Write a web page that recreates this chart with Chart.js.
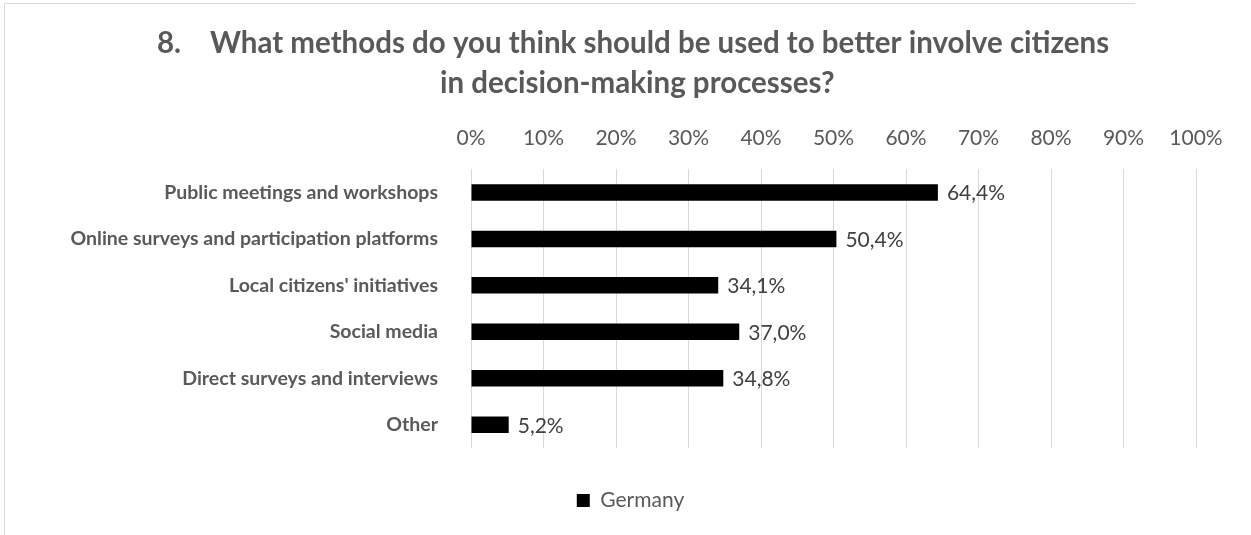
<!DOCTYPE html>
<html>
<head>
<meta charset="utf-8">
<script src="https://cdn.jsdelivr.net/npm/chart.js@4.4.1/dist/chart.umd.min.js"></script>
<style>
  html, body { margin: 0; padding: 0; background: #ffffff; }
  #wrap { width: 1251px; height: 535px; position: relative; }
</style>
</head>
<body>
<div id="wrap"><canvas id="methodsChart"></canvas></div>
<script>
// survey answers, share of respondents (%)
const categories = [
    'Public meetings and workshops',
    'Online surveys and participation platforms',
    "Local citizens' initiatives",
    'Social media',
    'Direct surveys and interviews',
    'Other'
];
const germany = [64.4, 50.4, 34.1, 37.0, 34.8, 5.2];
const seriesName = 'Germany';

const titleNumber = '8.';
const titleLines = [
    'What methods do you think should be used to better involve citizens',
    'in decision-making processes?'
];
const tickLabels = ['0%', '10%', '20%', '30%', '40%', '50%', '60%', '70%', '80%', '90%', '100%'];

const FONT = 'Lato';
const GREY = '#595959';

// value with decimal comma, e.g. 64,4%
function fmt(v) {
    return v.toFixed(1).replace('.', ',') + '%';
}

// frame lines and the two-line heading
const frameAndTitle = {
    id: 'frameAndTitle',
    beforeDraw(chart) {
        const ctx = chart.ctx;
        ctx.save();
        ctx.strokeStyle = '#d9d9d9';
        ctx.lineWidth = 1;
        ctx.beginPath();
        ctx.moveTo(4.5, 535);
        ctx.lineTo(4.5, 3.5);
        ctx.lineTo(1135, 3.5);
        ctx.stroke();

        ctx.fillStyle = GREY;
        ctx.font = 'bold 29.5px ' + FONT;
        ctx.textAlign = 'left';
        ctx.textBaseline = 'alphabetic';
        ctx.fillText(titleNumber, 157, 53);
        ctx.fillText(titleLines[0], 210, 53);
        ctx.fillText(titleLines[1], 440, 93);
        ctx.restore();
    }
};

// value labels to the right of each bar
const barValues = {
    id: 'barValues',
    afterDatasetsDraw(chart) {
        const ctx = chart.ctx;
        const meta = chart.getDatasetMeta(0);
        ctx.save();
        ctx.fillStyle = '#404040';
        ctx.font = '21px ' + FONT;
        ctx.textAlign = 'left';
        ctx.textBaseline = 'middle';
        meta.data.forEach((bar, i) => {
            ctx.fillText(fmt(germany[i]), bar.x + 9, bar.y + 1);
        });
        ctx.restore();
    }
};

const ctx = document.getElementById('methodsChart').getContext('2d');

new Chart(ctx, {
    type: 'bar',
    data: {
        labels: categories,
        datasets: [{
            label: seriesName,
            data: germany,
            backgroundColor: '#000000',
            borderWidth: 0,
            categoryPercentage: 1,
            barPercentage: 0.355
        }]
    },
    options: {
        indexAxis: 'y',
        responsive: true,
        maintainAspectRatio: false,
        animation: false,
        layout: {
            padding: { top: 108, left: 30, right: 20, bottom: 14 }
        },
        scales: {
            x: {
                position: 'top',
                min: 0,
                max: 100,
                // keep the plot clear of the right edge, legend stays centred on full width
                afterFit(scale) { scale.paddingRight = 55; },
                ticks: {
                    stepSize: 10,
                    padding: 18,
                    color: GREY,
                    font: { family: FONT, size: 21 },
                    callback: (v, i) => tickLabels[i]
                },
                grid: {
                    color: '#d9d9d9',
                    lineWidth: 1,
                    drawTicks: false
                },
                border: { display: false }
            },
            y: {
                afterFit(scale) { scale.width = 441; },
                ticks: {
                    padding: 25,
                    color: GREY,
                    font: { family: FONT, size: 19.5, weight: 'bold' }
                },
                grid: { display: false },
                border: { display: false }
            }
        },
        plugins: {
            legend: {
                position: 'bottom',
                title: {
                    display: true,
                    text: '',
                    font: { size: 10 },
                    padding: { top: 20, bottom: 0 }
                },
                labels: {
                    boxWidth: 13,
                    boxHeight: 13,
                    padding: 10,
                    color: GREY,
                    font: { family: FONT, size: 21 }
                }
            },
            tooltip: { enabled: false }
        }
    },
    plugins: [frameAndTitle, barValues]
});
</script>
</body>
</html>
